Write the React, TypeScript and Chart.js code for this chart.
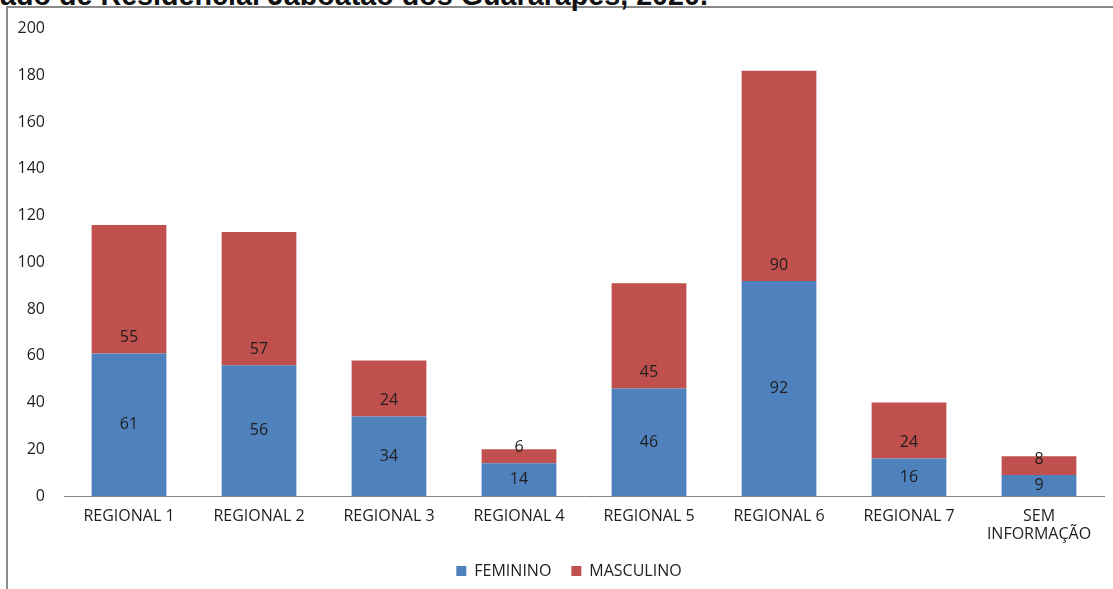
import React, { useEffect, useRef } from "react";
import { Chart, registerables } from "chart.js";

Chart.register(...registerables);

const categories: (string | string[])[] = [
  "REGIONAL 1",
  "REGIONAL 2",
  "REGIONAL 3",
  "REGIONAL 4",
  "REGIONAL 5",
  "REGIONAL 6",
  "REGIONAL 7",
  ["SEM", "INFORMAÇÃO"],
];
const feminino = [61, 56, 34, 14, 46, 92, 16, 9];
const masculino = [55, 57, 24, 6, 45, 90, 24, 8];
const yTicksMin = 0;
const yTicksMax = 200;
const yTicksStep = 20;

const titleText = "ado de Residencial Jaboatão dos Guararapes, 2020.";

const FONT = "'Open Sans', sans-serif";
const TEXT_COLOR = "#1e1e1e";
const FS = 16;

const labelsPlugin = {
  id: "segmentLabels",
  afterDatasetsDraw(chart: any) {
    const ctx = chart.ctx;
    ctx.save();
    ctx.font = `${FS}px ${FONT}`;
    ctx.fillStyle = TEXT_COLOR;
    ctx.textAlign = "center";
    ctx.textBaseline = "middle";
    chart.data.datasets.forEach((ds: any, di: number) => {
      const meta = chart.getDatasetMeta(di);
      meta.data.forEach((el: any, i: number) => {
        const { x, y, base } = el.getProps(["x", "y", "base"], true);
        const v = ds.data[i];
        const ty = di === 0 ? (y + base) / 2 : base - 16;
        ctx.fillText(String(v), x, ty);
      });
    });
    ctx.restore();
  },
};

const legendShiftPlugin = {
  id: "legendShift",
  afterLayout(chart: any) {
    const lg = chart.legend;
    if (lg) {
      lg.left += 12;
      lg.right += 12;
    }
  },
};

export default function App() {
  const ref = useRef<HTMLCanvasElement | null>(null);

  useEffect(() => {
    if (!ref.current) return;
    const chart = new Chart(ref.current, {
      type: "bar",
      data: {
        labels: categories as any,
        datasets: [
          {
            label: "FEMININO",
            data: feminino,
            backgroundColor: "#4F81BD",
            categoryPercentage: 1,
            barPercentage: 0.575,
          },
          {
            label: "MASCULINO",
            data: masculino,
            backgroundColor: "#C0504D",
            categoryPercentage: 1,
            barPercentage: 0.575,
          },
        ],
      },
      options: {
        responsive: false,
        animation: false,
        devicePixelRatio: 1,
        layout: { padding: { top: 25, left: 10, right: 9, bottom: 0 } },
        plugins: {
          tooltip: { enabled: false },
          legend: {
            position: "bottom",
            labels: {
              boxWidth: 10,
              boxHeight: 10,
              padding: 20,
              color: TEXT_COLOR,
              font: { family: FONT, size: FS },
            },
          },
        },
        scales: {
          x: {
            stacked: true,
            grid: { display: false, drawTicks: false },
            border: { display: true, color: "#868686", width: 1 },
            ticks: {
              color: TEXT_COLOR,
              font: { family: FONT, size: FS, lineHeight: 1.1 },
              padding: 12,
              maxRotation: 0,
              autoSkip: false,
            },
            afterFit: (s: any) => {
              s.height = 47;
            },
          },
          y: {
            stacked: true,
            min: yTicksMin,
            max: yTicksMax,
            grid: { display: false, drawTicks: false },
            border: { display: false },
            ticks: {
              stepSize: yTicksStep,
              color: TEXT_COLOR,
              font: { family: FONT, size: FS },
              padding: 19,
            },
            afterFit: (s: any) => {
              s.width = 54;
            },
          },
        },
      },
      plugins: [labelsPlugin, legendShiftPlugin],
    });
    return () => chart.destroy();
  }, []);

  return (
    <div
      style={{
        position: "fixed",
        left: 0,
        top: 0,
        width: 1113,
        height: 589,
        overflow: "hidden",
        background: "#fff",
      }}
    >
      <div
        style={{
          position: "absolute",
          left: 6,
          top: 6,
          right: -2,
          bottom: -2,
          borderLeft: "2px solid #8a8a8a",
          borderTop: "2px solid #8a8a8a",
        }}
      />
      <div
        style={{
          position: "absolute",
          left: 0,
          top: -19,
          fontFamily: "'Liberation Sans', Arial, sans-serif",
          fontWeight: "bold",
          fontSize: 28.7,
          lineHeight: "28px",
          whiteSpace: "nowrap",
          color: "#111",
        }}
      >
        {titleText}
      </div>
      <canvas
        ref={ref}
        width={1113}
        height={589}
        style={{ position: "absolute", left: 0, top: 0, width: 1113, height: 589 }}
      />
    </div>
  );
}
